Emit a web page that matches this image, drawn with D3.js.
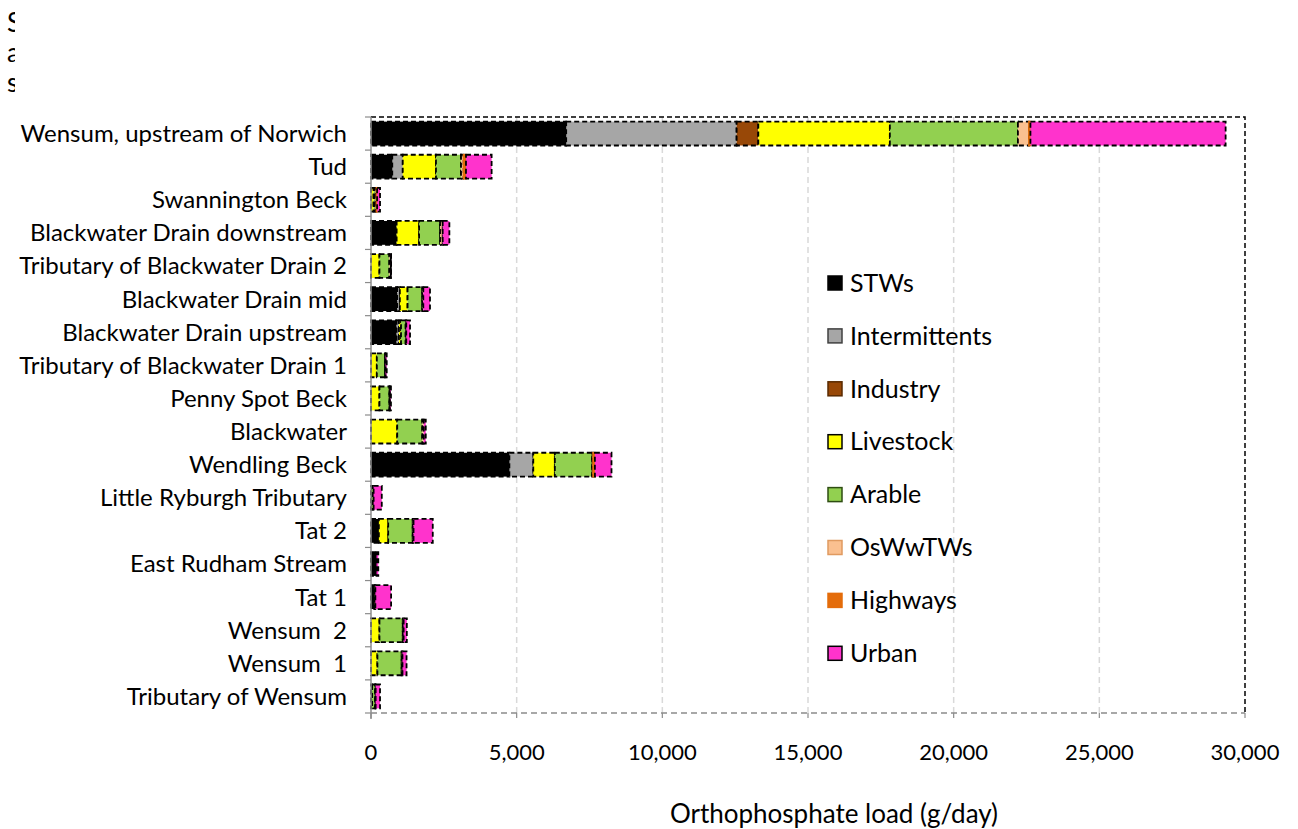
<!DOCTYPE html>
<html>
<head>
<meta charset="utf-8">
<script src="https://cdn.jsdelivr.net/npm/d3@7"></script>
<style>
  html, body { margin: 0; padding: 0; background: #fff; }
  svg { display: block; font-family: Lato, "Open Sans", sans-serif; }
</style>
</head>
<body>
<svg id="chart" width="1298" height="829"></svg>
<script>
// Catchment reaches, top to bottom
const categories = [
  "Wensum, upstream of Norwich", "Tud", "Swannington Beck", "Blackwater Drain downstream",
  "Tributary of Blackwater Drain 2", "Blackwater Drain mid", "Blackwater Drain upstream",
  "Tributary of Blackwater Drain 1", "Penny Spot Beck", "Blackwater", "Wendling Beck",
  "Little Ryburgh Tributary", "Tat 2", "East Rudham Stream", "Tat 1", "Wensum  2",
  "Wensum  1", "Tributary of Wensum"
];

// Orthophosphate load by source (g/day), one value per reach
const stws          = [6700, 730, 0, 880, 0, 900, 880, 0, 0, 0, 4750, 0, 270, 190, 130, 0, 0, 0];
const intermittents = [5850, 360, 0, 0, 0, 90, 80, 0, 0, 0, 820, 0, 0, 0, 0, 0, 0, 0];
const industry      = [745, 0, 0, 0, 0, 0, 0, 0, 0, 0, 0, 0, 0, 0, 0, 0, 0, 0];
const livestock     = [4515, 1140, 90, 770, 290, 265, 70, 200, 290, 900, 740, 30, 320, 0, 20, 290, 220, 40];
const arable        = [4395, 860, 60, 720, 340, 500, 160, 280, 340, 860, 1280, 60, 840, 0, 0, 800, 830, 100];
const oswwtws       = [380, 90, 40, 90, 50, 40, 20, 20, 20, 50, 35, 0, 30, 0, 0, 30, 30, 20];
const highways      = [50, 80, 20, 0, 0, 0, 0, 0, 0, 0, 60, 0, 0, 0, 0, 0, 0, 0];
const urban         = [6700, 880, 100, 230, 10, 230, 130, 40, 35, 70, 570, 280, 660, 60, 540, 110, 140, 150];

const sourceNames = ["STWs", "Intermittents", "Industry", "Livestock", "Arable", "OsWwTWs", "Highways", "Urban"];
const sourceValues = [stws, intermittents, industry, livestock, arable, oswwtws, highways, urban];
const sourceFill   = ["#000000", "#a6a6a6", "#984807", "#ffff00", "#92d050", "#fac090", "#e46c0a", "#ff33cc"];
const legendEdge   = ["#000000", "#404040", "#5a2a00", "#000000", "#2e4d12", "#e09a60", "#e46c0a", "#000000"];

const xTicks = [0, 5000, 10000, 15000, 20000, 25000, 30000];
const xTitle = "Orthophosphate load (g/day)";
const clippedTitle = ["S", "a", "s"];

const svg = d3.select("#chart");
const plot = { left: 371, top: 117, width: 874, height: 596 };

const x = d3.scaleLinear().domain([0, 30000]).range([plot.left, plot.left + plot.width]);
const y = d3.scaleBand().domain(categories).range([plot.top, plot.top + plot.height]).paddingInner(0.28).paddingOuter(0.14);

// Table of stacked rows
const rows = categories.map((c, i) => {
  const r = { category: c };
  sourceNames.forEach((s, k) => { r[s] = sourceValues[k][i]; });
  return r;
});
const stacked = d3.stack().keys(sourceNames)(rows);

// Partially hidden heading block at the far left
const clip = svg.append("defs").append("clipPath").attr("id", "headclip");
clip.append("rect").attr("x", 0).attr("y", 0).attr("width", 15).attr("height", 110);
svg.append("g").attr("clip-path", "url(#headclip)")
  .selectAll("text").data(clippedTitle).join("text")
  .attr("x", 7).attr("y", (d, i) => 32 + i * 30)
  .attr("font-size", 26).attr("fill", "#000").text(d => d);

// Vertical gridlines
svg.append("g").selectAll("line").data(xTicks.slice(1, -1)).join("line")
  .attr("x1", d => x(d)).attr("x2", d => x(d))
  .attr("y1", plot.top).attr("y2", plot.top + plot.height)
  .attr("stroke", "#d9d9d9").attr("stroke-width", 1.5).attr("stroke-dasharray", "6,4");

// Plot-area frame: top and right edges
svg.append("path")
  .attr("d", `M${plot.left},${plot.top}H${plot.left + plot.width}V${plot.top + plot.height}`)
  .attr("fill", "none").attr("stroke", "#000").attr("stroke-width", 1.5).attr("stroke-dasharray", "5,3");

// Stacked bars
svg.append("g").selectAll("g").data(stacked).join("g")
  .attr("fill", (d, k) => sourceFill[k])
  .selectAll("rect").data(d => d.filter(p => p[1] - p[0] > 0).map(p => ({ p, key: d.key })))
  .join("rect")
  .attr("x", d => x(d.p[0]))
  .attr("y", d => y(d.p.data.category))
  .attr("width", d => x(d.p[1]) - x(d.p[0]))
  .attr("height", y.bandwidth())
  .attr("stroke", d => d.key === "Highways" ? "#e46c0a" : "#000")
  .attr("stroke-width", 1.8)
  .attr("stroke-dasharray", d => d.key === "Highways" ? null : "5,3");

// Bottom axis line (dashed grey) with ticks
const xAxis = svg.append("g");
xAxis.append("line")
  .attr("x1", plot.left).attr("x2", plot.left + plot.width)
  .attr("y1", plot.top + plot.height).attr("y2", plot.top + plot.height)
  .attr("stroke", "#8c8c8c").attr("stroke-width", 1.5).attr("stroke-dasharray", "6,4");
xAxis.selectAll(".tk").data(xTicks).join("line").attr("class", "tk")
  .attr("x1", d => x(d)).attr("x2", d => x(d))
  .attr("y1", plot.top + plot.height).attr("y2", plot.top + plot.height + 5)
  .attr("stroke", "#8c8c8c").attr("stroke-width", 1.2);
xAxis.selectAll("text").data(xTicks).join("text")
  .attr("x", d => x(d)).attr("y", 760)
  .attr("text-anchor", "middle").attr("font-size", 22).attr("fill", "#000")
  .text(d => d3.format(",")(d));

// Left axis with category labels
const yAxis = svg.append("g");
yAxis.append("line")
  .attr("x1", plot.left).attr("x2", plot.left)
  .attr("y1", plot.top).attr("y2", plot.top + plot.height + 6)
  .attr("stroke", "#8c8c8c").attr("stroke-width", 1.5);
const bounds = d3.range(categories.length + 1).map(i => plot.top + i * plot.height / categories.length);
yAxis.selectAll(".tk").data(bounds).join("line").attr("class", "tk")
  .attr("x1", plot.left - 6).attr("x2", plot.left)
  .attr("y1", d => d).attr("y2", d => d)
  .attr("stroke", "#8c8c8c").attr("stroke-width", 1.2);
yAxis.selectAll("text").data(categories).join("text")
  .attr("x", 347).attr("y", d => y(d) + y.bandwidth() / 2)
  .attr("dy", "0.35em").attr("text-anchor", "end")
  .attr("font-size", 24).attr("fill", "#000")
  .style("white-space", "pre")
  .text(d => d);

// Axis title
svg.append("text")
  .attr("x", 834).attr("y", 823).attr("text-anchor", "middle")
  .attr("font-size", 26).attr("fill", "#000").text(xTitle);

// Legend
const legend = svg.append("g").selectAll("g").data(sourceNames).join("g")
  .attr("transform", (d, i) => `translate(828, ${283 + i * 52.9})`);
legend.append("rect")
  .attr("x", 0).attr("y", -7).attr("width", 14).attr("height", 14)
  .attr("fill", (d, i) => sourceFill[i])
  .attr("stroke", (d, i) => legendEdge[i]).attr("stroke-width", 1.5);
legend.append("text")
  .attr("x", 22).attr("dy", "0.35em")
  .attr("font-size", 25).attr("fill", "#000").text(d => d);
</script>
</body>
</html>
